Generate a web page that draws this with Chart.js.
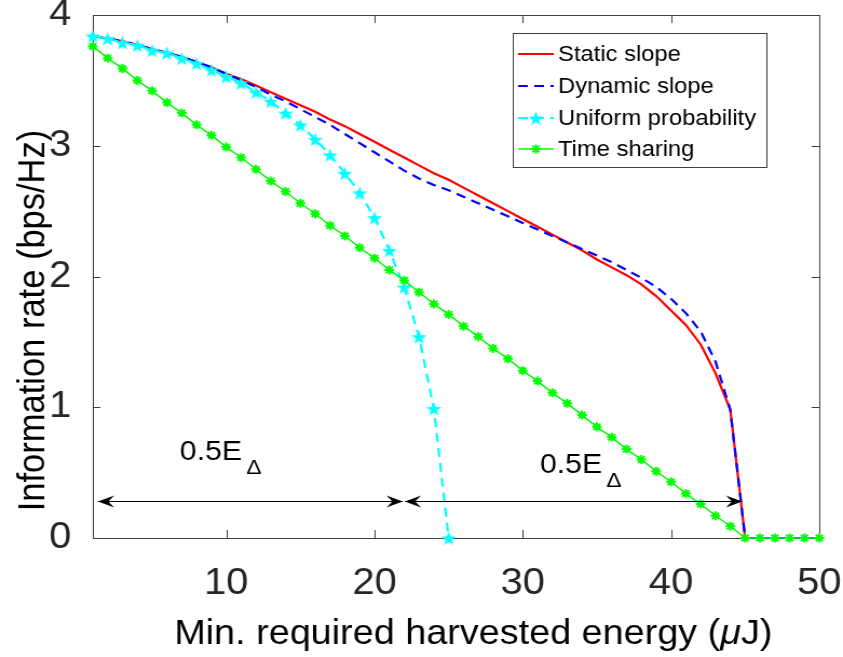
<!DOCTYPE html>
<html>
<head>
<meta charset="utf-8">
<script src="https://cdn.jsdelivr.net/npm/chart.js@4.4.0/dist/chart.umd.min.js"></script>
<style>
  html, body { margin: 0; padding: 0; background: #fff; }
  #holder { width: 843px; height: 657px; }
</style>
</head>
<body>
<!-- the original figure is stretched sideways, so the canvas is drawn narrower and widened by css -->
<div id="holder"><canvas id="chart" width="781" height="657" style="width:843px;height:657px"></canvas></div>
<script>
// Min. required harvested energy (uJ), one sample per uJ
const energy = [1, 2, 3, 4, 5, 6, 7, 8, 9, 10, 11, 12, 13, 14, 15, 16, 17, 18, 19, 20,
    21, 22, 23, 24, 25, 26, 27, 28, 29, 30, 31, 32, 33, 34, 35, 36, 37, 38, 39, 40,
    41, 42, 43, 44, 45, 46, 47, 48, 49, 50];

// Information rate (bps/Hz)
const staticSlope = [3.84, 3.82, 3.80, 3.77, 3.74, 3.71, 3.68, 3.64, 3.60, 3.55,
    3.51, 3.46, 3.41, 3.36, 3.31, 3.26, 3.20, 3.15, 3.09, 3.03,
    2.97, 2.91, 2.85, 2.79, 2.74, 2.68, 2.62, 2.56, 2.50, 2.44,
    2.38, 2.32, 2.26, 2.20, 2.13, 2.07, 2.01, 1.94, 1.85, 1.74,
    1.63, 1.48, 1.26, 0.98, 0, 0, 0, 0, 0, 0];
const dynamicSlope = [3.84, 3.82, 3.80, 3.77, 3.74, 3.71, 3.68, 3.64, 3.60, 3.55,
    3.50, 3.45, 3.39, 3.34, 3.28, 3.22, 3.16, 3.09, 3.02, 2.95,
    2.88, 2.81, 2.75, 2.70, 2.66, 2.61, 2.56, 2.51, 2.46, 2.41,
    2.36, 2.31, 2.26, 2.21, 2.16, 2.11, 2.05, 1.99, 1.92, 1.83,
    1.72, 1.58, 1.35, 0.98, 0, 0, 0, 0, 0, 0];
const uniformProb = [3.84, 3.82, 3.79, 3.77, 3.73, 3.71, 3.67, 3.63, 3.58, 3.53,
    3.48, 3.41, 3.34, 3.25, 3.16, 3.05, 2.93, 2.79, 2.64, 2.45,
    2.20, 1.92, 1.54, 0.99, 0];
const timeSharing = [3.76, 3.67, 3.59, 3.50, 3.42, 3.33, 3.25, 3.16, 3.08, 2.99,
    2.91, 2.82, 2.73, 2.65, 2.56, 2.48, 2.39, 2.31, 2.22, 2.14,
    2.05, 1.97, 1.88, 1.79, 1.71, 1.62, 1.54, 1.45, 1.37, 1.28,
    1.20, 1.11, 1.03, 0.94, 0.85, 0.77, 0.68, 0.60, 0.51, 0.43,
    0.34, 0.26, 0.17, 0.09, 0, 0, 0, 0, 0, 0];

const seriesNames = ['Static slope', 'Dynamic slope', 'Uniform probability', 'Time sharing'];
const xTicks = [10, 20, 30, 40, 50];
const yTicks = [0, 1, 2, 3, 4];

// the two 0.5E_delta double arrows (energy from, energy to, rate) and their labels
const arrowSpans = [[1.35, 21.9, 0.283], [22.05, 44.8, 0.283]];
const spanLabels = [[6.87, 0.60], [31.16, 0.50]];

const FONT = '"Liberation Sans", Arial, Helvetica, sans-serif';

function toPoints(values) {
    return values.map((v, i) => ({x: energy[i], y: v}));
}

// filled pentagram, like matlab's 'p' marker
function pentagram(r, color) {
    const c = document.createElement('canvas');
    const s = Math.ceil(r * 2 + 2);
    c.width = s;
    c.height = s;
    const g = c.getContext('2d');
    g.fillStyle = color;
    g.beginPath();
    for (let k = 0; k < 10; k++) {
        const rr = k % 2 === 0 ? r : r * 0.4;
        const ang = -Math.PI / 2 + k * Math.PI / 5;
        const px = s / 2 + rr * Math.cos(ang);
        const py = s / 2 + 1 + rr * Math.sin(ang);
        if (k === 0) g.moveTo(px, py); else g.lineTo(px, py);
    }
    g.closePath();
    g.fill();
    return c;
}
const cyanStar = pentagram(7.4, '#00ffff');

function arrowHead(ctx, x, y, dir) {
    ctx.beginPath();
    ctx.moveTo(x, y);
    ctx.lineTo(x - dir * 15, y - 6);
    ctx.lineTo(x - dir * 9.5, y);
    ctx.lineTo(x - dir * 15, y + 6);
    ctx.closePath();
    ctx.fill();
}

// axes box with inward ticks on all sides
const frame = {
    id: 'frame',
    beforeDatasetsDraw(chart) {
        const {ctx, chartArea: a, scales: {x, y}} = chart;
        ctx.save();
        ctx.strokeStyle = '#404040';
        ctx.lineWidth = 1;
        ctx.strokeRect(a.left + 0.5, a.top + 0.5, a.right - a.left, a.bottom - a.top);
        ctx.beginPath();
        xTicks.forEach(v => {
            const px = Math.round(x.getPixelForValue(v)) + 0.5;
            ctx.moveTo(px, a.bottom); ctx.lineTo(px, a.bottom - 8);
            ctx.moveTo(px, a.top); ctx.lineTo(px, a.top + 8);
        });
        yTicks.forEach(v => {
            const py = Math.round(y.getPixelForValue(v)) + 0.5;
            ctx.moveTo(a.left, py); ctx.lineTo(a.left + 7, py);
            ctx.moveTo(a.right, py); ctx.lineTo(a.right - 7, py);
        });
        ctx.stroke();
        ctx.restore();
    }
};

// axis titles, the arrows with their labels, and the legend box
const extras = {
    id: 'extras',
    afterDraw(chart) {
        const {ctx, chartArea: a, scales: {x, y}} = chart;
        ctx.save();

        // arrows
        ctx.strokeStyle = '#000';
        ctx.fillStyle = '#000';
        ctx.lineWidth = 1;
        arrowSpans.forEach(([e1, e2, r]) => {
            const x1 = x.getPixelForValue(e1), x2 = x.getPixelForValue(e2);
            const py = Math.round(y.getPixelForValue(r)) + 0.5;
            ctx.beginPath();
            ctx.moveTo(x1, py);
            ctx.lineTo(x2, py);
            ctx.stroke();
            arrowHead(ctx, x1, py, -1);
            arrowHead(ctx, x2, py, 1);
        });
        spanLabels.forEach(([e, r]) => {
            const px = x.getPixelForValue(e), py = y.getPixelForValue(r);
            ctx.textAlign = 'left';
            ctx.textBaseline = 'alphabetic';
            ctx.font = '28px ' + FONT;
            ctx.fillText('0.5E', px, py);
            const w = ctx.measureText('0.5E').width;
            ctx.font = '21px ' + FONT;
            ctx.fillText('\u0394', px + w + 4, py + 14);
        });

        // x title, mu in italics as in the TeX label
        ctx.fillStyle = '#000';
        ctx.textBaseline = 'middle';
        const parts = [['Min. required harvested energy (', 'normal'], ['\u03bc', 'italic'], ['J)', 'normal']];
        let total = 0;
        parts.forEach(p => {
            ctx.font = p[1] + ' 35px ' + FONT;
            total += ctx.measureText(p[0]).width;
        });
        let tx = (a.left + a.right) / 2 + 16 - total / 2;
        parts.forEach(p => {
            ctx.font = p[1] + ' 35px ' + FONT;
            ctx.textAlign = 'left';
            ctx.fillText(p[0], tx, 634);
            tx += ctx.measureText(p[0]).width;
        });

        // y title
        ctx.save();
        ctx.translate(31, (a.top + a.bottom) / 2 + 44);
        ctx.rotate(-Math.PI / 2);
        ctx.textAlign = 'center';
        ctx.font = '34.5px ' + FONT;
        ctx.fillText('Information rate (bps/Hz)', 0, 0);
        ctx.restore();

        // legend
        const bx = a.right - 284, by = a.top + 18, bw = 235, bh = 134;
        ctx.fillStyle = '#fff';
        ctx.fillRect(bx, by, bw, bh);
        ctx.strokeStyle = '#404040';
        ctx.lineWidth = 1;
        ctx.strokeRect(bx + 0.5, by + 0.5, bw, bh);
        const rows = [21, 53, 85, 116];
        chart.data.datasets.forEach((ds, i) => {
            const ry = by + rows[i];
            ctx.save();
            ctx.strokeStyle = ds.borderColor;
            ctx.lineWidth = ds.borderWidth;
            ctx.setLineDash(ds.borderDash || []);
            ctx.beginPath();
            ctx.moveTo(bx + 5, ry);
            ctx.lineTo(bx + 38, ry);
            ctx.stroke();
            ctx.setLineDash([]);
            if (ds.pointStyle instanceof HTMLCanvasElement) {
                ctx.drawImage(ds.pointStyle, bx + 21.5 - ds.pointStyle.width / 2, ry - ds.pointStyle.height / 2);
            } else if (ds.pointStyle === 'star') {
                Chart.helpers.drawPoint(ctx, {pointStyle: 'star', radius: ds.pointRadius, borderWidth: ds.pointBorderWidth}, bx + 21.5, ry);
                ctx.stroke();
            }
            ctx.restore();
            ctx.fillStyle = '#000';
            ctx.font = '22px ' + FONT;
            ctx.textAlign = 'left';
            ctx.textBaseline = 'middle';
            ctx.fillText(seriesNames[i], bx + 42, ry + 1);
        });

        ctx.restore();
    }
};

const datasets = [
    {
        label: seriesNames[0],
        data: toPoints(staticSlope),
        borderColor: '#ff0000',
        borderWidth: 2.2,
        pointRadius: 0,
        order: 4
    },
    {
        label: seriesNames[1],
        data: toPoints(dynamicSlope),
        borderColor: '#0000ff',
        borderWidth: 2.2,
        borderDash: [9, 6],
        pointRadius: 0,
        order: 3
    },
    {
        label: seriesNames[2],
        data: toPoints(uniformProb),
        borderColor: '#00ffff',
        borderWidth: 2.2,
        borderDash: [9, 6],
        pointStyle: cyanStar,
        pointRadius: 7,
        order: 2
    },
    {
        label: seriesNames[3],
        data: toPoints(timeSharing),
        borderColor: '#00ff00',
        backgroundColor: '#00ff00',
        borderWidth: 1.5,
        pointStyle: 'star',
        pointRadius: 4.5,
        pointBorderWidth: 2,
        pointBorderColor: '#00ff00',
        order: 1
    }
];

new Chart(document.getElementById('chart').getContext('2d'), {
    type: 'line',
    data: {datasets: datasets},
    plugins: [frame, extras],
    options: {
        responsive: false,
        animation: false,
        clip: false,
        layout: {padding: {left: 0, top: 15, right: 22, bottom: 0}},
        elements: {line: {tension: 0}},
        scales: {
            x: {
                type: 'linear',
                min: 1,
                max: 50,
                grid: {display: false},
                border: {display: false},
                afterFit: s => {
                    s.height = 119;
                    s.paddingLeft = 0;
                    s.paddingRight = 0;
                },
                afterBuildTicks: s => { s.ticks = xTicks.map(v => ({value: v})); },
                ticks: {
                    color: '#262626',
                    padding: 19,
                    font: {family: FONT, size: 37, lineHeight: 1},
                    maxRotation: 0
                }
            },
            y: {
                type: 'linear',
                min: 0,
                max: 4,
                grid: {display: false},
                border: {display: false},
                afterFit: s => {
                    s.width = 86;
                    s.paddingTop = 0;
                    s.paddingBottom = 0;
                },
                afterBuildTicks: s => { s.ticks = yTicks.map(v => ({value: v})); },
                ticks: {
                    color: '#262626',
                    padding: 12,
                    font: {family: FONT, size: 37, lineHeight: 1}
                }
            }
        },
        plugins: {
            legend: {display: false},
            tooltip: {enabled: false}
        }
    }
});
</script>
</body>
</html>
